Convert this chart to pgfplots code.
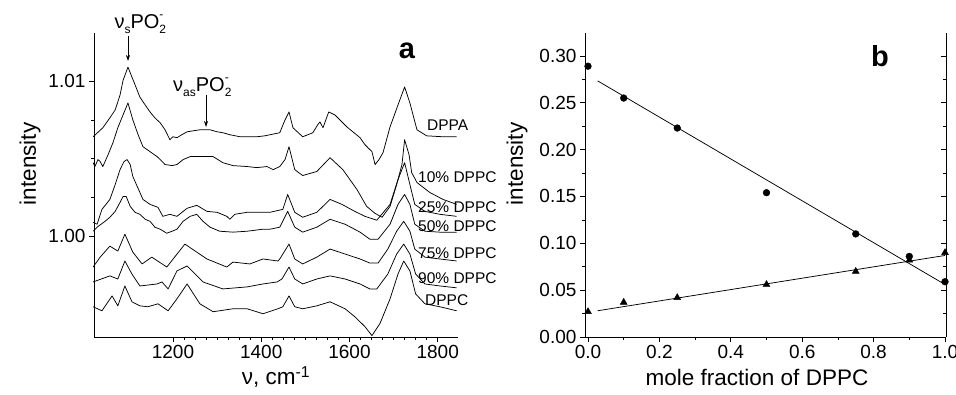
\documentclass[border=0pt]{standalone}
\usepackage{pgfplots}
\pgfplotsset{compat=1.18}
\usepackage{fontspec}
\setmainfont{Liberation Sans}
\usetikzlibrary{arrows.meta}
\newcommand{\sm}{\fontsize{12}{12}\selectfont}
\newcommand{\annot}[1]{ν\raisebox{-0.4ex}{\sm #1}PO\rlap{\raisebox{-0.4ex}{\sm 2}}\raisebox{1.0ex}{\sm -}}
\pgfplotsset{
  common/.style={
    scale only axis, anchor=south west,
    axis line style={-, line width=0.9pt},
    tick style={black, line width=0.7pt},
    major tick length=5pt, minor tick length=3pt,
    tick align=outside,
    ticklabel style={font=\fontsize{19}{19}\selectfont},
    /pgf/number format/assume math mode=true,
  },
  spec/.style={black, line width=0.75pt, line join=round, mark=none},
}
\begin{document}
\begin{tikzpicture}[x=1pt,y=1pt]
\useasboundingbox (0,0) rectangle (956,394);
% ---------------- panel a ----------------
\begin{axis}[common, at={(94pt,57pt)}, width=364pt, height=304pt,
  xmin=1021, xmax=1846, ymin=0.9935, ymax=1.0131,
  axis x line*=bottom, axis y line*=left,
  xtick={1200,1400,1600,1800}, minor x tick num=7,
  ytick={1.00,1.01}, minor y tick num=3,
  yticklabel style={/pgf/number format/.cd, fixed, fixed zerofill, precision=2},
  xticklabel style={/pgf/number format/.cd, set thousands separator={}},
  clip=false]
% DPPA
\addplot[spec] coordinates {(1019,1.00641)(1041,1.00699)(1057,1.00763)(1069,1.00814)(1080,1.00910)(1087,1.01006)(1098,1.01090)(1107,1.01026)(1116,1.00962)(1125,1.00897)(1137,1.00846)(1148,1.00801)(1159,1.00763)(1171,1.00731)(1182,1.00686)(1193,1.00622)(1200,1.00641)(1209,1.00635)(1220,1.00654)(1232,1.00673)(1245,1.00679)(1261,1.00686)(1284,1.00686)(1300,1.00673)(1313,1.00667)(1329,1.00654)(1352,1.00641)(1374,1.00641)(1390,1.00641)(1408,1.00647)(1420,1.00654)(1442,1.00667)(1454,1.00750)(1463,1.00801)(1472,1.00699)(1494,1.00641)(1517,1.00667)(1528,1.00718)(1533,1.00737)(1540,1.00699)(1553,1.00801)(1567,1.00782)(1594,1.00705)(1624,1.00635)(1635,1.00590)(1642,1.00570)(1651,1.00545)(1658,1.00462)(1667,1.00494)(1676,1.00538)(1692,1.00705)(1710,1.00846)(1725,1.00962)(1737,1.00859)(1753,1.00686)(1775,1.00647)(1812,1.00641)(1843,1.00641)};
% 10% DPPC
\addplot[spec] coordinates {(1019,1.00474)(1023,1.00449)(1030,1.00494)(1035,1.00481)(1041,1.00449)(1053,1.00526)(1064,1.00603)(1075,1.00699)(1085,1.00769)(1098,1.00859)(1109,1.00750)(1121,1.00654)(1132,1.00577)(1148,1.00545)(1164,1.00513)(1171,1.00494)(1182,1.00462)(1198,1.00455)(1209,1.00462)(1223,1.00494)(1239,1.00513)(1261,1.00513)(1291,1.00513)(1313,1.00474)(1336,1.00455)(1368,1.00449)(1390,1.00442)(1413,1.00449)(1427,1.00429)(1442,1.00449)(1454,1.00494)(1463,1.00577)(1476,1.00429)(1494,1.00391)(1526,1.00417)(1556,1.00506)(1585,1.00429)(1617,1.00301)(1639,1.00192)(1658,1.00147)(1674,1.00122)(1692,1.00192)(1707,1.00333)(1719,1.00462)(1725,1.00622)(1735,1.00526)(1741,1.00410)(1753,1.00346)(1782,1.00282)(1812,1.00237)(1843,1.00205)};
% 25% DPPC
\addplot[spec] coordinates {(1019,1.00090)(1028,1.00077)(1039,1.00173)(1057,1.00237)(1069,1.00333)(1080,1.00429)(1089,1.00481)(1096,1.00494)(1103,1.00462)(1109,1.00385)(1125,1.00282)(1132,1.00237)(1148,1.00205)(1166,1.00186)(1177,1.00128)(1193,1.00141)(1209,1.00128)(1232,1.00180)(1254,1.00199)(1277,1.00160)(1300,1.00154)(1322,1.00128)(1329,1.00109)(1340,1.00141)(1368,1.00154)(1404,1.00154)(1420,1.00154)(1449,1.00173)(1460,1.00269)(1476,1.00154)(1494,1.00122)(1526,1.00154)(1556,1.00237)(1583,1.00205)(1612,1.00160)(1635,1.00128)(1662,1.00103)(1692,1.00205)(1710,1.00365)(1725,1.00474)(1737,1.00333)(1748,1.00205)(1771,1.00160)(1805,1.00141)(1843,1.00128)};
% 50% DPPC
\addplot[spec] coordinates {(1019,1.00032)(1028,1.00058)(1046,1.00096)(1057,1.00122)(1069,1.00160)(1080,1.00218)(1087,1.00256)(1094,1.00256)(1103,1.00192)(1114,1.00154)(1125,1.00141)(1137,1.00109)(1148,1.00096)(1159,1.00058)(1171,1.00045)(1186,1.00019)(1198,1.00032)(1209,1.00045)(1223,1.00096)(1239,1.00128)(1254,1.00141)(1268,1.00096)(1284,1.00058)(1306,1.00032)(1336,1.00026)(1368,1.00032)(1404,1.00045)(1420,1.00045)(1442,1.00058)(1460,1.00160)(1476,1.00058)(1494,1.00026)(1526,1.00058)(1556,1.00109)(1590,1.00077)(1624,1.00026)(1646,0.99981)(1665,0.99981)(1692,1.00077)(1710,1.00205)(1725,1.00269)(1737,1.00205)(1748,1.00077)(1771,1.00032)(1805,1.00026)(1843,1.00026)};
% 75% DPPC
\addplot[spec] coordinates {(1019,0.99801)(1035,0.99865)(1057,0.99936)(1075,0.99904)(1091,1.00013)(1109,0.99897)(1130,0.99821)(1152,0.99865)(1186,0.99801)(1227,0.99949)(1254,0.99897)(1277,0.99853)(1322,0.99801)(1336,0.99833)(1374,0.99821)(1404,0.99853)(1438,0.99840)(1442,0.99853)(1463,0.99949)(1476,0.99853)(1494,0.99821)(1526,0.99865)(1556,0.99917)(1590,0.99885)(1624,0.99853)(1646,0.99827)(1665,0.99827)(1687,0.99917)(1707,1.00032)(1723,1.00096)(1737,1.00032)(1748,0.99917)(1771,0.99865)(1805,0.99853)(1843,0.99840)};
% 90% DPPC
\addplot[spec] coordinates {(1019,0.99705)(1057,0.99744)(1075,0.99724)(1091,0.99840)(1107,0.99756)(1125,0.99679)(1164,0.99692)(1175,0.99705)(1189,0.99660)(1209,0.99776)(1232,0.99808)(1268,0.99705)(1313,0.99660)(1368,0.99673)(1404,0.99692)(1436,0.99705)(1447,0.99724)(1463,0.99801)(1476,0.99724)(1494,0.99692)(1526,0.99724)(1556,0.99744)(1590,0.99724)(1624,0.99692)(1646,0.99660)(1662,0.99660)(1687,0.99756)(1707,0.99885)(1723,0.99949)(1737,0.99885)(1750,0.99756)(1771,0.99692)(1805,0.99679)(1843,0.99667)};
% DPPC
\addplot[spec] coordinates {(1019,0.99545)(1039,0.99519)(1062,0.99615)(1075,0.99551)(1091,0.99679)(1107,0.99577)(1125,0.99551)(1143,0.99545)(1166,0.99564)(1189,0.99519)(1209,0.99596)(1232,0.99692)(1261,0.99564)(1291,0.99513)(1336,0.99532)(1368,0.99532)(1404,0.99500)(1438,0.99532)(1449,0.99545)(1463,0.99615)(1476,0.99545)(1494,0.99532)(1526,0.99551)(1556,0.99577)(1590,0.99532)(1612,0.99481)(1635,0.99417)(1651,0.99359)(1669,0.99436)(1692,0.99596)(1710,0.99756)(1723,0.99840)(1737,0.99776)(1750,0.99628)(1771,0.99564)(1805,0.99545)(1843,0.99519)};
\end{axis}
% ---------------- panel b ----------------
\begin{axis}[common, at={(585pt,57pt)}, width=361pt, height=304pt,
  xmin=-0.0084, xmax=1.0028, ymin=0, ymax=0.3244,
  axis x line*=bottom, axis y line*=left,
  xtick={0,0.2,0.4,0.6,0.8,1.0}, minor x tick num=1,
  ytick={0,0.05,0.10,0.15,0.20,0.25,0.30}, minor y tick num=1,
  xticklabel style={/pgf/number format/.cd, fixed, fixed zerofill, precision=1},
  yticklabel style={/pgf/number format/.cd, fixed, fixed zerofill, precision=2},
  clip=false]
\addplot[black, line width=0.75pt] coordinates {(0.027,0.2733) (1.0,0.0560)};
\addplot[black, line width=0.75pt] coordinates {(0.027,0.0280) (1.0,0.0870)};
\addplot[only marks, mark=*, mark size=3.4pt, black] coordinates {(0,0.289)(0.1,0.255)(0.25,0.223)(0.5,0.154)(0.75,0.110)(0.9,0.086)(1.0,0.059)};
\addplot[only marks, mark=triangle*, mark size=4pt, black] coordinates {(0,0.027)(0.1,0.037)(0.25,0.042)(0.5,0.056)(0.75,0.070)(0.9,0.082)(1.0,0.090)};
\end{axis}
\begin{axis}[common, at={(585pt,57pt)}, width=361pt, height=304pt,
  xmin=-0.0084, xmax=1.0028, ymin=0, ymax=0.3244,
  axis x line=none, axis y line*=right, tick align=inside,
  ytick={0,0.05,0.10,0.15,0.20,0.25,0.30}, minor y tick num=1,
  yticklabels={}]
\addplot[draw=none] coordinates {(0,0)};
\end{axis}
% ---------------- texts ----------------
\node[rotate=90, font=\fontsize{22.5}{24}\selectfont] at (30,230) {intensity};
\node[rotate=90, font=\fontsize{22.5}{24}\selectfont] at (517,230) {intensity};
\node[font=\fontsize{22.5}{24}\selectfont] at (276,17) {ν, cm\textsuperscript{-1}};
\node[font=\fontsize{22.5}{24}\selectfont] at (757,17) {mole fraction of DPPC};
\node[font=\fontsize{29}{30}\selectfont\bfseries] at (407,343) {a};
\node[font=\fontsize{29}{30}\selectfont\bfseries] at (880,338) {b};
\node[font=\fontsize{20}{22}\selectfont] at (139,370) {\annot{s}};
\draw[line width=0.7pt, -{Stealth[length=6pt,width=4pt]}] (128,358) -- (128,333);
\node[font=\fontsize{20}{22}\selectfont] at (201,307) {\annot{as}};
\draw[line width=0.7pt, -{Stealth[length=6pt,width=4pt]}] (206,299) -- (206,267);
\begin{scope}[every node/.style={anchor=west, inner sep=0pt, font=\fontsize{15.5}{16}\selectfont}]
\node at (427,269) {DPPA};
\node at (418,217) {10\% DPPC};
\node at (418,187) {25\% DPPC};
\node at (418,168) {50\% DPPC};
\node at (418,141) {75\% DPPC};
\node at (418,116) {90\% DPPC};
\node at (425,94) {DPPC};
\end{scope}
\end{tikzpicture}
\end{document}
